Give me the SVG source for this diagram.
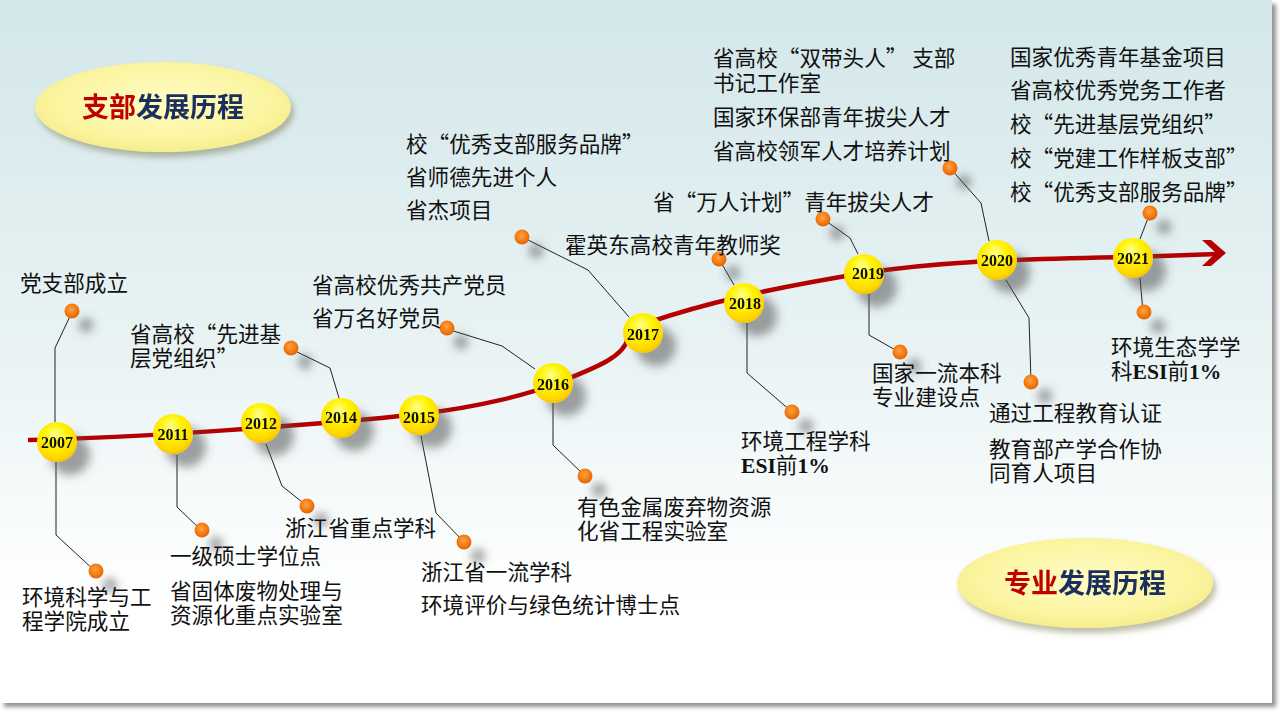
<svg xmlns="http://www.w3.org/2000/svg" width="1280" height="720" viewBox="0 0 1280 720">
<defs>
  <linearGradient id="bg" x1="0" y1="0" x2="0" y2="1">
    <stop offset="0" stop-color="#d3e7ea"/>
    <stop offset="0.5" stop-color="#e9f3f4"/>
    <stop offset="0.85" stop-color="#ffffff"/>
  </linearGradient>
  <radialGradient id="ell" cx="0.5" cy="0.45" r="0.6">
    <stop offset="0" stop-color="#fffcc4"/>
    <stop offset="0.7" stop-color="#fbf5a0"/>
    <stop offset="1" stop-color="#f3ea86"/>
  </radialGradient>
  <radialGradient id="yel" cx="0.45" cy="0.35" r="0.65" fx="0.45" fy="0.3">
    <stop offset="0" stop-color="#ffff8c"/>
    <stop offset="0.45" stop-color="#fff200"/>
    <stop offset="0.85" stop-color="#ffd800"/>
    <stop offset="1" stop-color="#f5c400"/>
  </radialGradient>
  <radialGradient id="org" cx="0.45" cy="0.4" r="0.6">
    <stop offset="0" stop-color="#ffa347"/>
    <stop offset="0.6" stop-color="#f47c12"/>
    <stop offset="1" stop-color="#e0640a"/>
  </radialGradient>
  <filter id="shd" x="-50%" y="-50%" width="250%" height="250%">
    <feGaussianBlur in="SourceAlpha" stdDeviation="5"/>
    <feOffset dx="13" dy="13" result="b"/>
    <feFlood flood-color="#555" flood-opacity="0.55"/>
    <feComposite in2="b" operator="in"/>
    <feMerge><feMergeNode/><feMergeNode in="SourceGraphic"/></feMerge>
  </filter>
  <filter id="shd2" x="-100%" y="-100%" width="400%" height="400%">
    <feGaussianBlur in="SourceAlpha" stdDeviation="4"/>
    <feOffset dx="14" dy="14" result="b"/>
    <feFlood flood-color="#555" flood-opacity="0.5"/>
    <feComposite in2="b" operator="in"/>
    <feMerge><feMergeNode/><feMergeNode in="SourceGraphic"/></feMerge>
  </filter>
  <filter id="eshd" x="-20%" y="-30%" width="140%" height="170%">
    <feGaussianBlur in="SourceAlpha" stdDeviation="3"/>
    <feOffset dx="3" dy="5" result="b"/>
    <feFlood flood-color="#6b6b3a" flood-opacity="0.45"/>
    <feComposite in2="b" operator="in"/>
    <feMerge><feMergeNode/><feMergeNode in="SourceGraphic"/></feMerge>
  </filter>
  <filter id="slide" x="-5%" y="-5%" width="110%" height="110%">
    <feGaussianBlur in="SourceAlpha" stdDeviation="2"/>
    <feOffset dx="4" dy="4" result="b"/>
    <feFlood flood-color="#777" flood-opacity="0.8"/>
    <feComposite in2="b" operator="in"/>
    <feMerge><feMergeNode/><feMergeNode in="SourceGraphic"/></feMerge>
  </filter>
</defs>
<style>
  .t { font-family: "Noto Sans CJK SC", "Liberation Serif", serif; font-size: 21.6px; fill: #111; }
  .lat { font-family: "Liberation Serif", serif; font-weight: bold; }
  .yr { font-family: "Liberation Serif", serif; font-weight: bold; font-size: 16px; fill: #111; text-anchor: middle; }
  .ttl { font-family: "Noto Sans CJK SC", sans-serif; font-weight: bold; font-size: 27px; text-anchor: middle; }
  .red { fill: #c00000; }
  .blu { fill: #1b2f5c; }
  .con { fill: none; stroke: #222; stroke-width: 1; }
  .yc { fill: url(#yel); }
  .dot { fill: url(#org); }
</style>

<rect width="1280" height="720" fill="#ffffff"/>
<rect x="0" y="0" width="1272" height="703" fill="url(#bg)" filter="url(#slide)"/>

<g id="title-top" filter="url(#eshd)">
  <ellipse cx="163" cy="107" rx="128" ry="45" fill="url(#ell)"/>
  <text class="ttl" x="163" y="117"><tspan class="red">支部</tspan><tspan class="blu">发展历程</tspan></text>
</g>
<g id="title-bottom" filter="url(#eshd)">
  <ellipse cx="1085" cy="583" rx="128" ry="45" fill="url(#ell)"/>
  <text class="ttl" x="1085" y="593"><tspan class="red">专业</tspan><tspan class="blu">发展历程</tspan></text>
</g>

<g id="timeline">
  <path d="M28,440 C130,438 320,425 419,414 C480,407 530,394 560,382 C600,366 624,356 628,338" fill="none" stroke="#b40000" stroke-width="4.5"/>
  <path d="M650,322 C700,305 760,290 864,273 C930,263 1000,259 1133,257 L1217,254" fill="none" stroke="#b40000" stroke-width="4.5"/>
  <polygon points="1202,240 1211,240 1226,253 1211,266 1202,266 1216,253" fill="#b40000"/>
</g>

<g id="connectors">
  <polyline class="con" points="72,312 55,348 55,422"/>
  <polyline class="con" points="56,462 56,535 95,571"/>
  <polyline class="con" points="177,455 177,507 201,530"/>
  <polyline class="con" points="266,444 282,486 307,506"/>
  <polyline class="con" points="291,349 330,368 339,398"/>
  <polyline class="con" points="421,436 436,513 464,542"/>
  <polyline class="con" points="447,329 502,346 535,369"/>
  <polyline class="con" points="553,403 553,445 585,476"/>
  <polyline class="con" points="522,237 588,270 629,317"/>
  <polyline class="con" points="719,259 734,285"/>
  <polyline class="con" points="747,323 747,373 792,412"/>
  <polyline class="con" points="823,219 850,238 858,254"/>
  <polyline class="con" points="869,294 869,335 899,352"/>
  <polyline class="con" points="950,168 981,203 989,241"/>
  <polyline class="con" points="1006,280 1029,318 1031,382"/>
  <polyline class="con" points="1150,213 1140,239"/>
  <polyline class="con" points="1140,278 1143,312"/>
</g>

<g id="dots" filter="url(#shd2)">
  <circle class="dot" cx="72" cy="311" r="7.5"/>
  <circle class="dot" cx="96" cy="571" r="7.5"/>
  <circle class="dot" cx="202" cy="530" r="7.5"/>
  <circle class="dot" cx="307" cy="506" r="7.5"/>
  <circle class="dot" cx="291" cy="348" r="7.5"/>
  <circle class="dot" cx="464" cy="542" r="7.5"/>
  <circle class="dot" cx="447" cy="328" r="7.5"/>
  <circle class="dot" cx="585" cy="476" r="7.5"/>
  <circle class="dot" cx="522" cy="237" r="7.5"/>
  <circle class="dot" cx="719" cy="259" r="7.5"/>
  <circle class="dot" cx="792" cy="412" r="7.5"/>
  <circle class="dot" cx="823" cy="219" r="7.5"/>
  <circle class="dot" cx="900" cy="352" r="7.5"/>
  <circle class="dot" cx="950" cy="168" r="7.5"/>
  <circle class="dot" cx="1031" cy="382" r="7.5"/>
  <circle class="dot" cx="1150" cy="213" r="7.5"/>
  <circle class="dot" cx="1144" cy="312" r="7.5"/>
</g>

<g id="years" filter="url(#shd)">
  <g id="y2007"><circle class="yc" cx="57" cy="442" r="20"/><text class="yr" x="57" y="448">2007</text></g>
  <g id="y2011"><circle class="yc" cx="173" cy="434" r="20"/><text class="yr" x="173" y="440">2011</text></g>
  <g id="y2012"><circle class="yc" cx="261" cy="423" r="20"/><text class="yr" x="261" y="429">2012</text></g>
  <g id="y2014"><circle class="yc" cx="341" cy="418" r="20"/><text class="yr" x="341" y="423">2014</text></g>
  <g id="y2015"><circle class="yc" cx="419" cy="415" r="20"/><text class="yr" x="419" y="423">2015</text></g>
  <g id="y2016"><circle class="yc" cx="553" cy="383" r="20"/><text class="yr" x="553" y="390">2016</text></g>
  <g id="y2017"><circle class="yc" cx="643" cy="333" r="20"/><text class="yr" x="643" y="340">2017</text></g>
  <g id="y2018"><circle class="yc" cx="744" cy="303" r="20"/><text class="yr" x="745" y="309">2018</text></g>
  <g id="y2019"><circle class="yc" cx="864" cy="274" r="20"/><text class="yr" x="868" y="279">2019</text></g>
  <g id="y2020"><circle class="yc" cx="997" cy="260" r="20"/><text class="yr" x="997" y="266">2020</text></g>
  <g id="y2021"><circle class="yc" cx="1133" cy="258" r="20"/><text class="yr" x="1133" y="264">2021</text></g>
</g>

<g id="labels-top">
  <text class="t" x="20" y="291">党支部成立</text>
  <text class="t" x="130" y="342">省高校“先进基<tspan x="130" dy="24">层党组织”</tspan></text>
  <text class="t" x="312" y="293">省高校优秀共产党员</text>
  <text class="t" x="312" y="326">省万名好党员</text>
  <text class="t" x="406" y="152">校“优秀支部服务品牌”</text>
  <text class="t" x="406" y="185">省师德先进个人</text>
  <text class="t" x="406" y="218">省杰项目</text>
  <text class="t" x="565" y="253">霍英东高校青年教师奖</text>
  <text class="t" x="653" y="210">省“万人计划”青年拔尖人才</text>
  <text class="t" x="713" y="66">省高校“双带头人” 支部<tspan x="713" dy="25">书记工作室</tspan></text>
  <text class="t" x="713" y="125">国家环保部青年拔尖人才</text>
  <text class="t" x="713" y="159">省高校领军人才培养计划</text>
  <text class="t" x="1010" y="65">国家优秀青年基金项目</text>
  <text class="t" x="1010" y="98">省高校优秀党务工作者</text>
  <text class="t" x="1010" y="132">校“先进基层党组织”</text>
  <text class="t" x="1010" y="166">校“党建工作样板支部”</text>
  <text class="t" x="1010" y="200">校“优秀支部服务品牌”</text>
</g>

<g id="labels-bottom">
  <text class="t" x="22" y="605">环境科学与工<tspan x="22" dy="24">程学院成立</tspan></text>
  <text class="t" x="170" y="564">一级硕士学位点</text>
  <text class="t" x="170" y="599">省固体废物处理与<tspan x="170" dy="24">资源化重点实验室</tspan></text>
  <text class="t" x="285" y="536">浙江省重点学科</text>
  <text class="t" x="421" y="580">浙江省一流学科</text>
  <text class="t" x="421" y="613">环境评价与绿色统计博士点</text>
  <text class="t" x="577" y="515">有色金属废弃物资源<tspan x="577" dy="24">化省工程实验室</tspan></text>
  <text class="t" x="741" y="449">环境工程学科<tspan x="741" dy="24"><tspan class="lat">ESI</tspan>前<tspan class="lat">1%</tspan></tspan></text>
  <text class="t" x="872" y="381">国家一流本科<tspan x="872" dy="24">专业建设点</tspan></text>
  <text class="t" x="989" y="421">通过工程教育认证</text>
  <text class="t" x="989" y="457">教育部产学合作协<tspan x="989" dy="24">同育人项目</tspan></text>
  <text class="t" x="1111" y="355">环境生态学学<tspan x="1111" dy="24">科<tspan class="lat">ESI</tspan>前<tspan class="lat">1%</tspan></tspan></text>
</g>
</svg>
